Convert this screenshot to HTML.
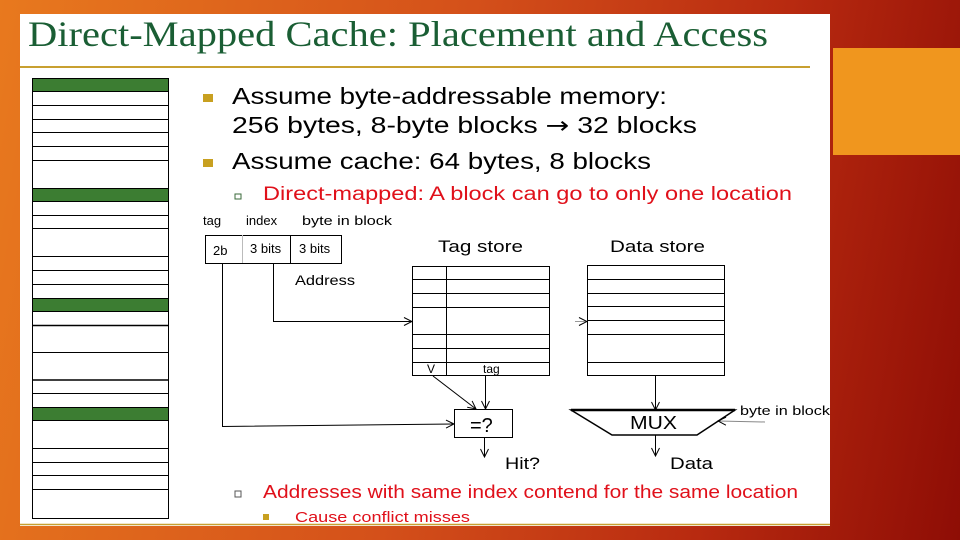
<!DOCTYPE html>
<html><head><meta charset="utf-8"><style>
html,body{margin:0;padding:0}
body{width:960px;height:540px;overflow:hidden;background:linear-gradient(100deg,#e8791e 0%,#d4501a 45%,#b82a10 75%,#8e0d05 100%);position:relative;font-family:"Liberation Sans",sans-serif}
</style></head><body>
<div style="position:absolute;left:833px;top:48px;width:127px;height:107px;background:#f0961e"></div>
<svg style="position:absolute;left:0;top:0" width="960" height="540" viewBox="0 0 960 540">
<defs><marker id="a" markerWidth="10" markerHeight="10" refX="9" refY="5" orient="auto" markerUnits="userSpaceOnUse"><path d="M1,1 L9,5 L1,9" fill="none" stroke="#000" stroke-width="1"/></marker></defs>
<rect x="20" y="14" width="810" height="512" fill="#fff"/>
<text x="28" y="46" font-family="Liberation Serif,serif" font-size="36" fill="#1a5e34" textLength="740" lengthAdjust="spacingAndGlyphs">Direct-Mapped Cache: Placement and Access</text>
<line x1="20" y1="67" x2="810" y2="67" stroke="#c8a030" stroke-width="2"/>
<line x1="20" y1="524.5" x2="830" y2="524.5" stroke="#c8a030" stroke-width="1.5"/>
<g stroke="#000" stroke-width="1" fill="none">
<rect x="32.5" y="78.5" width="136" height="440"/>
</g>
<g fill="#3c7d32" stroke="#000" stroke-width="1">
<rect x="32.5" y="78.5" width="136" height="13"/>
<rect x="32.5" y="188.5" width="136" height="13"/>
<rect x="32.5" y="298.5" width="136" height="13"/>
<rect x="32.5" y="407.5" width="136" height="13"/>
</g>
<g stroke="#000" stroke-width="1">
<line x1="32" y1="105.5" x2="168" y2="105.5"/><line x1="32" y1="119.5" x2="168" y2="119.5"/><line x1="32" y1="132.5" x2="168" y2="132.5"/><line x1="32" y1="146.5" x2="168" y2="146.5"/><line x1="32" y1="160.5" x2="168" y2="160.5"/>
<line x1="32" y1="215.5" x2="168" y2="215.5"/><line x1="32" y1="228.5" x2="168" y2="228.5"/><line x1="32" y1="256.5" x2="168" y2="256.5"/><line x1="32" y1="270.5" x2="168" y2="270.5"/><line x1="32" y1="284.5" x2="168" y2="284.5"/>
<line x1="32" y1="325.5" x2="168" y2="325.5" stroke-width="1.5"/><line x1="32" y1="352.5" x2="168" y2="352.5"/><line x1="32" y1="380" x2="168" y2="380" stroke-width="1.5"/><line x1="32" y1="393.5" x2="168" y2="393.5"/>
<line x1="32" y1="448.5" x2="168" y2="448.5"/><line x1="32" y1="462.5" x2="168" y2="462.5"/><line x1="32" y1="475.5" x2="168" y2="475.5"/><line x1="32" y1="489.5" x2="168" y2="489.5"/>
</g>
<rect x="203" y="94" width="10" height="8" fill="#c8a020"/>
<rect x="203" y="159" width="10" height="8" fill="#c8a020"/>
<text x="232" y="104" font-size="23" fill="#000" textLength="435" lengthAdjust="spacingAndGlyphs">Assume byte-addressable memory:</text>
<text x="232" y="133" font-size="23" fill="#000" textLength="465" lengthAdjust="spacingAndGlyphs">256 bytes, 8-byte blocks <tspan font-family="DejaVu Sans">→</tspan> 32 blocks</text>
<text x="232" y="169" font-size="23" fill="#000" textLength="419" lengthAdjust="spacingAndGlyphs">Assume cache: 64 bytes, 8 blocks</text>
<rect x="235" y="194" width="6" height="5" fill="none" stroke="#3a6a3a" stroke-width="1"/>
<text x="263" y="200" font-size="19" fill="#e0101a" textLength="529" lengthAdjust="spacingAndGlyphs">Direct-mapped: A block can go to only one location</text>
<text x="203" y="225" font-size="13" fill="#000">tag</text>
<text x="246" y="225" font-size="13" fill="#000">index</text>
<text x="302" y="225" font-size="13" fill="#000" textLength="90" lengthAdjust="spacingAndGlyphs">byte in block</text>
<rect x="205.5" y="235.5" width="136" height="28" fill="none" stroke="#000"/>
<line x1="242.5" y1="235" x2="242.5" y2="263" stroke="#bbb"/>
<line x1="290.5" y1="235" x2="290.5" y2="263" stroke="#000"/>
<text x="213" y="255" font-size="13">2b</text>
<text x="250" y="253" font-size="13">3 bits</text>
<text x="299" y="253" font-size="13">3 bits</text>
<text x="295" y="285" font-size="14" textLength="60" lengthAdjust="spacingAndGlyphs">Address</text>
<text x="438" y="252" font-size="17" textLength="85" lengthAdjust="spacingAndGlyphs">Tag store</text>
<text x="610" y="252" font-size="17" textLength="95" lengthAdjust="spacingAndGlyphs">Data store</text>
<g stroke="#000" stroke-width="1" fill="none">
<rect x="412.5" y="266.5" width="137" height="109"/>
<line x1="446.5" y1="266" x2="446.5" y2="375"/>
<line x1="412" y1="279.5" x2="550" y2="279.5"/><line x1="412" y1="293.5" x2="550" y2="293.5"/><line x1="412" y1="307.5" x2="550" y2="307.5"/><line x1="412" y1="334.5" x2="550" y2="334.5"/><line x1="412" y1="348.5" x2="550" y2="348.5"/><line x1="412" y1="362.5" x2="550" y2="362.5"/>
<rect x="587.5" y="265.5" width="137" height="110"/>
<line x1="587" y1="279.5" x2="724" y2="279.5"/><line x1="587" y1="293.5" x2="724" y2="293.5"/><line x1="587" y1="306.5" x2="724" y2="306.5"/><line x1="587" y1="320.5" x2="724" y2="320.5"/><line x1="587" y1="334.5" x2="724" y2="334.5"/><line x1="587" y1="362.5" x2="724" y2="362.5"/>
</g>
<text x="427" y="373" font-size="12">V</text>
<text x="483" y="373" font-size="12">tag</text>
<g stroke="#000" stroke-width="1" fill="none">
<polyline points="222.5,263 222.5,426.5 454,424" marker-end="url(#a)"/>
<polyline points="273.5,263 273.5,321.5 412,321.5" marker-end="url(#a)"/>
<line x1="575" y1="321.5" x2="587" y2="321.5" stroke="#999" marker-end="url(#a)"/>
<line x1="433" y1="376" x2="476" y2="409" marker-end="url(#a)"/>
<line x1="485.5" y1="375" x2="485.5" y2="409" marker-end="url(#a)"/>
<rect x="454.5" y="409.5" width="58" height="28"/>
<line x1="484.5" y1="437" x2="484.5" y2="457" marker-end="url(#a)"/>
<line x1="655.5" y1="375" x2="655.5" y2="410" marker-end="url(#a)"/>
<line x1="655.5" y1="435" x2="655.5" y2="456" marker-end="url(#a)"/>
<line x1="765" y1="422" x2="718" y2="421" stroke="#888" marker-end="url(#a)"/>
<polygon points="571,410 735,410 697,435 612,435" stroke-width="1.5"/>
<line x1="571" y1="410" x2="735" y2="410" stroke-width="2.5"/>
</g>
<text x="470" y="432" font-size="20">=?</text>
<text x="630" y="429" font-size="18" textLength="47" lengthAdjust="spacingAndGlyphs">MUX</text>
<text x="740" y="415" font-size="13" textLength="90" lengthAdjust="spacingAndGlyphs">byte in block</text>
<text x="505" y="469" font-size="17" textLength="35" lengthAdjust="spacingAndGlyphs">Hit?</text>
<text x="670" y="469" font-size="17" textLength="43" lengthAdjust="spacingAndGlyphs">Data</text>
<rect x="235" y="491" width="6" height="6" fill="none" stroke="#555" stroke-width="1"/>
<text x="263" y="498" font-size="18" fill="#e0101a" textLength="535" lengthAdjust="spacingAndGlyphs">Addresses with same index contend for the same location</text>
<rect x="263" y="514" width="6" height="6" fill="#c8a020"/>
<text x="295" y="522" font-size="15" fill="#e0101a" textLength="175" lengthAdjust="spacingAndGlyphs">Cause conflict misses</text>
</svg>
</body></html>
